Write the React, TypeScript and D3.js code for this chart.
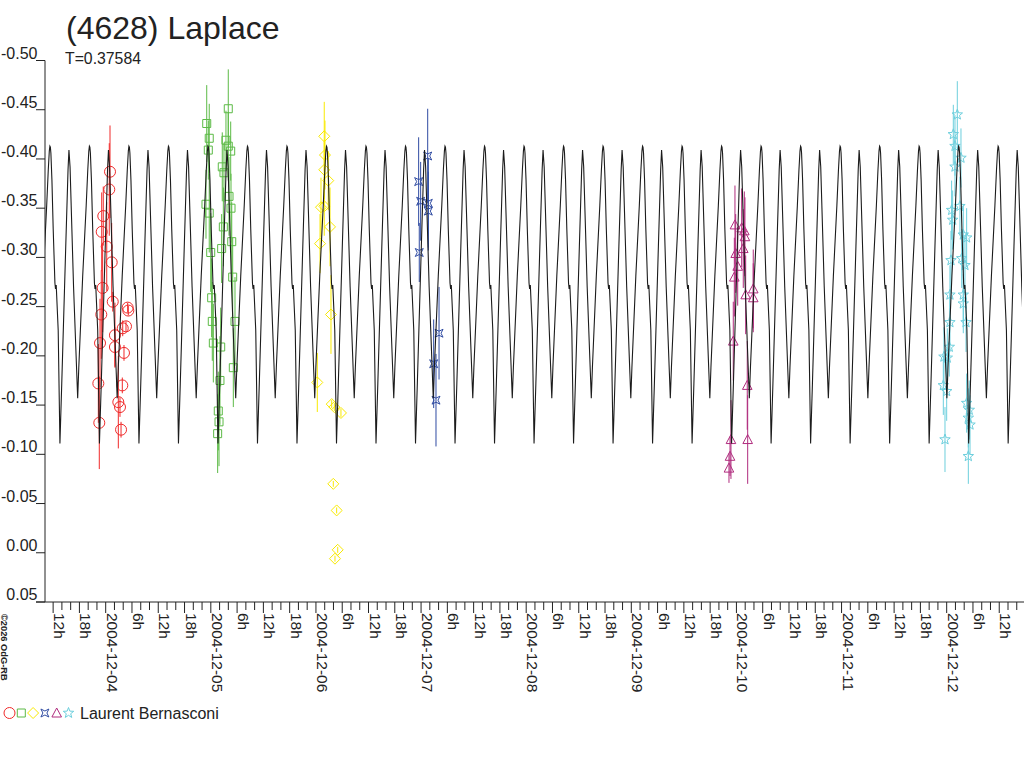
import React from 'react';
import * as d3 from 'd3';

const title = '(4628) Laplace';
const periodLabel = 'T=0.37584';
const observer = 'Laurent Bernasconi';
const copyright = '©2026 OdG-RB';

// rotation period (days) and time (day of December 2004) of a primary maximum
const period = 0.37584;
const epoch = 7.2276;

// one rotation of the model light curve
const profilePhase = [0, 0.012, 0.025, 0.051, 0.084, 0.127, 0.142, 0.16, 0.21, 0.254, 0.3, 0.401, 0.459, 0.482, 0.51, 0.599, 0.68, 0.703, 0.731, 0.83, 0.919, 0.959, 0.985, 1.0];
const profileMag = [-0.413, -0.412, -0.406, -0.379, -0.328, -0.274, -0.268, -0.272, -0.226, -0.111, -0.172, -0.311, -0.389, -0.409, -0.392, -0.27, -0.182, -0.157, -0.188, -0.281, -0.353, -0.389, -0.408, -0.413];

// axis domains (time in days of December 2004, relative magnitude)
const timeDomain = [3.4226, 12.7165];
const magDomain = [-0.5, 0.05];
const magTicks = [-0.5, -0.45, -0.4, -0.35, -0.3, -0.25, -0.2, -0.15, -0.1, -0.05, 0.0, 0.05];

// observations: [day of Dec 2004, magnitude, error]
const session1: [number, number, number][] = [
  [4.041, -0.387, 0.047], [4.034, -0.369, 0.047], [3.977, -0.342, 0.03], [3.962, -0.326, 0.04],
  [4.010, -0.311, 0.045], [4.057, -0.295, 0.04], [3.971, -0.269, 0.045], [4.067, -0.255, 0.01],
  [4.209, -0.249, 0.005], [4.215, -0.246, 0.005], [3.958, -0.242, 0.045], [4.193, -0.230, 0.005],
  [4.162, -0.228, 0.008], [4.088, -0.221, 0.033], [3.946, -0.213, 0.045], [4.088, -0.209, 0.02],
  [4.174, -0.203, 0.008], [3.930, -0.172, 0.04], [4.158, -0.170, 0.008], [4.120, -0.153, 0.047],
  [4.136, -0.148, 0.01], [3.939, -0.132, 0.047], [4.146, -0.125, 0.008],
];
const session2: [number, number, number][] = [
  [5.166, -0.451, 0.04], [4.961, -0.436, 0.039], [4.985, -0.421, 0.035], [5.144, -0.419, 0.03],
  [5.166, -0.413, 0.035], [5.189, -0.408, 0.03], [4.976, -0.409, 0.03], [5.109, -0.392, 0.035],
  [5.125, -0.386, 0.03], [5.173, -0.362, 0.04], [4.954, -0.354, 0.035], [4.985, -0.345, 0.04],
  [5.192, -0.350, 0.035], [5.119, -0.331, 0.04], [5.199, -0.316, 0.04], [5.103, -0.309, 0.035],
  [4.999, -0.305, 0.04], [5.208, -0.280, 0.04], [5.008, -0.259, 0.04], [5.014, -0.235, 0.04],
  [5.230, -0.235, 0.045], [5.024, -0.213, 0.04], [5.094, -0.209, 0.04], [5.214, -0.188, 0.04],
  [5.087, -0.175, 0.045], [5.071, -0.144, 0.04], [5.078, -0.133, 0.045], [5.065, -0.121, 0.04],
];
const session3: [number, number, number][] = [
  [6.079, -0.423, 0.035], [6.086, -0.404, 0.035], [6.079, -0.389, 0.03], [6.117, -0.378, 0.03],
  [6.048, -0.351, 0.03], [6.079, -0.352, 0.03], [6.134, -0.331, 0.04], [6.039, -0.314, 0.03],
  [6.143, -0.242, 0.04], [6.013, -0.173, 0.03], [6.150, -0.151, 0.004], [6.175, -0.148, 0.004],
  [6.238, -0.142, 0.004], [6.165, -0.070, 0.003], [6.197, -0.043, 0.003], [6.207, -0.003, 0.003],
  [6.181, 0.006, 0.003],
];
const session4: [number, number, number][] = [
  [7.063, -0.403, 0.048], [6.977, -0.377, 0.045], [6.996, -0.357, 0.04], [7.069, -0.355, 0.045],
  [7.069, -0.347, 0.04], [6.983, -0.305, 0.03], [7.171, -0.223, 0.047], [7.120, -0.192, 0.045],
  [7.142, -0.155, 0.047],
];
const session5: [number, number, number][] = [
  [9.986, -0.333, 0.04], [10.050, -0.330, 0.04], [10.075, -0.327, 0.04], [10.081, -0.321, 0.04],
  [9.993, -0.304, 0.04], [10.065, -0.309, 0.04], [10.012, -0.291, 0.04], [9.980, -0.280, 0.04],
  [10.088, -0.262, 0.04], [10.160, -0.268, 0.04], [10.160, -0.259, 0.035], [9.970, -0.215, 0.04],
  [10.103, -0.170, 0.045], [9.948, -0.115, 0.04], [10.107, -0.115, 0.045], [9.939, -0.098, 0.02],
  [9.929, -0.086, 0.015],
];
const session6: [number, number, number][] = [
  [12.101, -0.445, 0.034], [12.063, -0.425, 0.03], [12.079, -0.413, 0.03], [12.136, -0.401, 0.03],
  [12.079, -0.392, 0.03], [12.047, -0.348, 0.03], [12.057, -0.338, 0.03], [12.126, -0.352, 0.03],
  [12.158, -0.323, 0.03], [12.190, -0.320, 0.03], [12.041, -0.297, 0.03], [12.143, -0.299, 0.03],
  [12.174, -0.292, 0.03], [12.031, -0.262, 0.03], [12.158, -0.262, 0.03], [12.158, -0.253, 0.03],
  [12.031, -0.234, 0.03], [12.184, -0.234, 0.03], [12.025, -0.209, 0.03], [11.974, -0.199, 0.03],
  [12.006, -0.198, 0.03], [11.968, -0.170, 0.03], [12.000, -0.164, 0.03], [12.190, -0.152, 0.03],
  [12.215, -0.145, 0.03], [12.206, -0.137, 0.03], [12.222, -0.130, 0.03], [11.984, -0.115, 0.033],
  [12.206, -0.098, 0.028],
];

const sessions = [session1, session2, session3, session4, session5, session6];
const sessionColors = ['#f02a2a', '#5cba46', '#f9ea00', '#2f4ba2', '#b02c7e', '#6dcfdd'];
const sessionSymbols = ['circle', 'square', 'diamond', 'cross4', 'triangle', 'star'];

const W = 1024;
const H = 768;
const left = 45;
const right = 1022;
const top = 60.5;
const bottom = 602;
const font = '"Liberation Sans", Arial, sans-serif';
const ink = '#222';

function symbolPath(kind: string): string {
  switch (kind) {
    case 'circle':
      return 'M5.5,0A5.5,5.5 0 1,1 -5.5,0A5.5,5.5 0 1,1 5.5,0Z';
    case 'square':
      return 'M-4,-4H4V4H-4Z';
    case 'diamond':
      return 'M0,-5.5L5.5,0L0,5.5L-5.5,0Z';
    case 'cross4':
      return 'M-4,-4L0,-2L4,-4L2,0L4,4L0,2L-4,4L-2,0Z';
    case 'triangle':
      return 'M0,-5L4.8,4L-4.8,4Z';
    case 'star': {
      const pts: string[] = [];
      for (let i = 0; i < 10; i++) {
        const r = i % 2 === 0 ? 5.5 : 2.3;
        const a = -Math.PI / 2 + (i * Math.PI) / 5;
        pts.push(`${(r * Math.cos(a)).toFixed(2)},${(r * Math.sin(a)).toFixed(2)}`);
      }
      return 'M' + pts.join('L') + 'Z';
    }
  }
  return '';
}

export default function App() {
  const x = d3.scaleLinear().domain(timeDomain).range([left, right]);
  const y = d3.scaleLinear().domain(magDomain).range([top, bottom]);

  // model curve: the read profile repeated every rotation
  const curvePts: [number, number][] = [];
  const kStart = Math.floor((timeDomain[0] - epoch) / period) - 1;
  const kEnd = Math.ceil((timeDomain[1] - epoch) / period) + 1;
  for (let k = kStart; k <= kEnd; k++) {
    for (let i = 0; i < profilePhase.length - 1; i++) {
      curvePts.push([epoch + (k + profilePhase[i]) * period, profileMag[i]]);
    }
  }
  const line = d3
    .line<[number, number]>()
    .x((d) => x(d[0]))
    .y((d) => y(d[1]));

  // time ticks every 2 hours
  const ticks: { t: number; major: boolean; label: string }[] = [];
  for (let i = Math.ceil(timeDomain[0] * 12); i <= Math.floor(timeDomain[1] * 12); i++) {
    const hour = (i % 12) * 2;
    const major = hour % 6 === 0;
    const day = Math.floor(i / 12);
    const label = major ? (hour === 0 ? `2004-12-${String(day).padStart(2, '0')}` : `${hour}h`) : '';
    ticks.push({ t: i / 12, major, label });
  }

  return (
    <svg
      width={W}
      height={H}
      viewBox={`0 0 ${W} ${H}`}
      style={{ position: 'absolute', left: 0, top: 0, background: '#fff' }}
      fontFamily={font}
    >
      <defs>
        <clipPath id="plot">
          <rect x={left} y={0} width={right - left} height={H} />
        </clipPath>
      </defs>
      <rect width={W} height={H} fill="#fff" />

      <text x={66} y={39} fontSize={32} fill={ink}>{title}</text>
      <text x={65} y={64} fontSize={15.8} fill={ink}>{periodLabel}</text>

      {/* y axis */}
      <line x1={left} x2={left} y1={top} y2={bottom} stroke={ink} strokeWidth={1} />
      {magTicks.map((m) => (
        <g key={m}>
          <line x1={36} x2={left} y1={y(m)} y2={y(m)} stroke={ink} strokeWidth={1} />
          <text x={37.5} y={y(m) - 2} fontSize={16} textAnchor="end" fill={ink}>
            {m.toFixed(2).replace('-0.00', '0.00')}
          </text>
        </g>
      ))}

      {/* x axis */}
      <line x1={36} x2={W} y1={bottom} y2={bottom} stroke={ink} strokeWidth={1} />
      {ticks.map((tk) => (
        <g key={tk.t}>
          <line x1={x(tk.t)} x2={x(tk.t)} y1={bottom} y2={bottom + (tk.major ? 11 : 8)} stroke={ink} strokeWidth={1} />
          {tk.label && (
            <text transform={`translate(${x(tk.t) + 1},613) rotate(90)`} fontSize={15.5} fill={ink}>
              {tk.label}
            </text>
          )}
        </g>
      ))}

      {/* observations */}
      <g clipPath="url(#plot)">
        {sessions.map((s, si) => (
          <g key={si} stroke={sessionColors[si]} fill="none" strokeWidth={1}>
            {s.map((d, i) => (
              <line key={'e' + i} x1={x(d[0])} x2={x(d[0])} y1={y(d[1] - d[2])} y2={y(d[1] + d[2])} />
            ))}
            {s.map((d, i) => (
              <path key={'p' + i} d={symbolPath(sessionSymbols[si])} transform={`translate(${x(d[0])},${y(d[1])})`} />
            ))}
          </g>
        ))}
        <path d={line(curvePts) || ''} fill="none" stroke="#1c1c1c" strokeWidth={1.1} />
      </g>

      {/* copyright */}
      <text transform="translate(0.5,614) rotate(90)" fontSize={9.3} fontWeight="bold" fill={ink}>
        {copyright}
      </text>

      {/* legend */}
      {sessionSymbols.map((s, i) => (
        <path
          key={s}
          d={symbolPath(s)}
          transform={`translate(${9.5 + i * 11.8},713)`}
          fill="none"
          stroke={sessionColors[i]}
          strokeWidth={1}
        />
      ))}
      <text x={80} y={719} fontSize={16} fill={ink}>{observer}</text>
    </svg>
  );
}
